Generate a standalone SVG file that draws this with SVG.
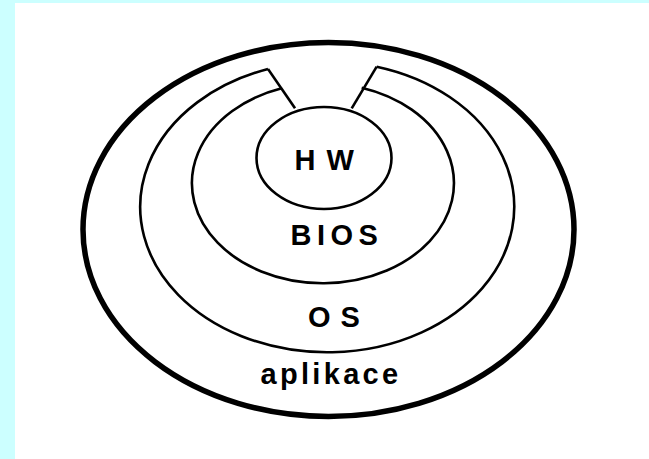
<svg xmlns="http://www.w3.org/2000/svg" width="649" height="459" viewBox="0 0 649 459">
<style>
.ln{fill:none;stroke:#000;stroke-width:2.6;stroke-linejoin:miter}
.thick{fill:none;stroke:#000;stroke-width:5.5}
.lbl{font-family:"Liberation Sans",Arial,sans-serif;font-weight:bold;font-size:29px;fill:#000;text-anchor:middle}
</style>
<rect x="0" y="0" width="649" height="459" fill="#CCFFFF"/>
<rect x="15" y="3" width="634" height="456" fill="#FFFFFF"/>
<g id="aplikace">
<ellipse class="thick" cx="328.5" cy="229.5" rx="245.5" ry="187"/>
<text class="lbl" x="331" y="384" letter-spacing="3.3">aplikace</text>
</g>
<g id="os">
<path class="ln" d="M268,69 A187,145.4 0 1 0 376.7,66.7"/>
<text class="lbl" x="339" y="327" letter-spacing="10">OS</text>
</g>
<g id="bios">
<path class="ln" d="M281.7,88.3 A131,100 0 1 0 361.7,87.7"/>
<text class="lbl" x="337" y="245" letter-spacing="5.5">BIOS</text>
</g>
<g id="hw">
<ellipse class="ln" cx="324" cy="158" rx="67.5" ry="51"/>
<text class="lbl" x="325" y="170" letter-spacing="1.5">H W</text>
</g>
<g id="connectors">
<path class="ln" d="M268,69 L295,108.3"/>
<path class="ln" d="M376.7,66.7 L351.7,108.3"/>
</g>
</svg>
